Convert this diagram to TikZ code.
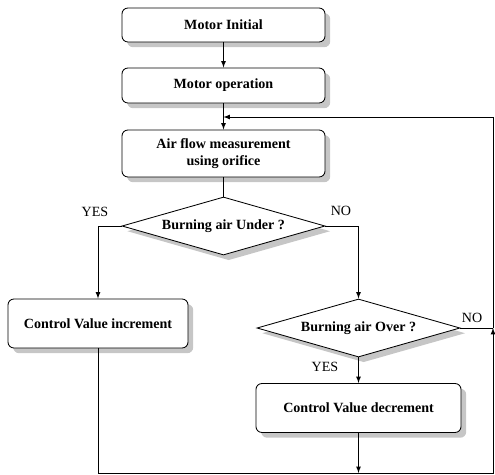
\documentclass[tikz,border=0pt]{standalone}
\usepackage{fontspec}
\setmainfont{Liberation Serif}
\usetikzlibrary{arrows,shapes,shadows,calc}

\begin{document}
\begin{tikzpicture}[x=0.025cm, y=-0.025cm, semithick, >=latex,
  box/.style={rectangle, rounded corners=0.15cm, draw=black, fill=white, font=\fontsize{10}{12}\selectfont\bfseries, align=center, inner sep=0pt,
    drop shadow={fill=gray!45, opacity=1, shadow xshift=0.13cm, shadow yshift=-0.13cm}},
  test/.style={diamond, shape aspect=3.5, draw=black, fill=white, font=\fontsize{10}{12}\selectfont\bfseries, inner sep=0pt, minimum width=5.075cm, minimum height=1.45cm,
    drop shadow={fill=gray!45, opacity=1, shadow xshift=0.13cm, shadow yshift=-0.13cm}},
  lbl/.style={font=\fontsize{10}{12}\selectfont}]
  \useasboundingbox (0,0) rectangle (495,475);

  \node[box, minimum width=5.075cm, minimum height=0.85cm] (init) at (223.5,25) {Motor Initial};
  \node[box, minimum width=5.075cm, minimum height=0.875cm] (oper) at (223.5,85.5) {Motor operation};
  \node[box, minimum width=5.075cm, minimum height=1.175cm] (meas) at (223.5,153.5) {Air flow measurement\\using orifice};
  \node[test] (under) at (223.5,226) {Burning air Under ?};
  \node[box, minimum width=4.5cm, minimum height=1.225cm] (inc) at (98,323.5) {Control Value increment};
  \node[test] (over) at (358.5,328) {Burning air Over ?};
  \node[box, minimum width=5.125cm, minimum height=1.225cm] (dec) at (358.5,408) {Control Value decrement};

  \coordinate (join) at (223.5,117);
  \coordinate (bottom) at (358.5,473);
  \coordinate (corner) at (493,473);
  \coordinate (side) at (493,328);

  \draw[->] (init)--(oper);
  \draw[->] (oper)--(meas);
  \draw (meas)--(under);
  \draw[->] (under.west) -| (inc.north);
  \draw[->] (under.east) -| (over.north);
  \draw[->] (over)--(dec);
  \draw[->] (dec)--(bottom);
  \draw[->] (inc.south) |- (corner) -- (side);
  \draw (over.east)--(side);
  \draw[->] (side) |- (join);

  \node[lbl] (yes1) at (95,212) {YES};
  \node[lbl] (no1) at (341,211) {NO};
  \node[lbl] (yes2) at (325,367) {YES};
  \node[lbl] (no2) at (472,318) {NO};
\end{tikzpicture}
\end{document}
